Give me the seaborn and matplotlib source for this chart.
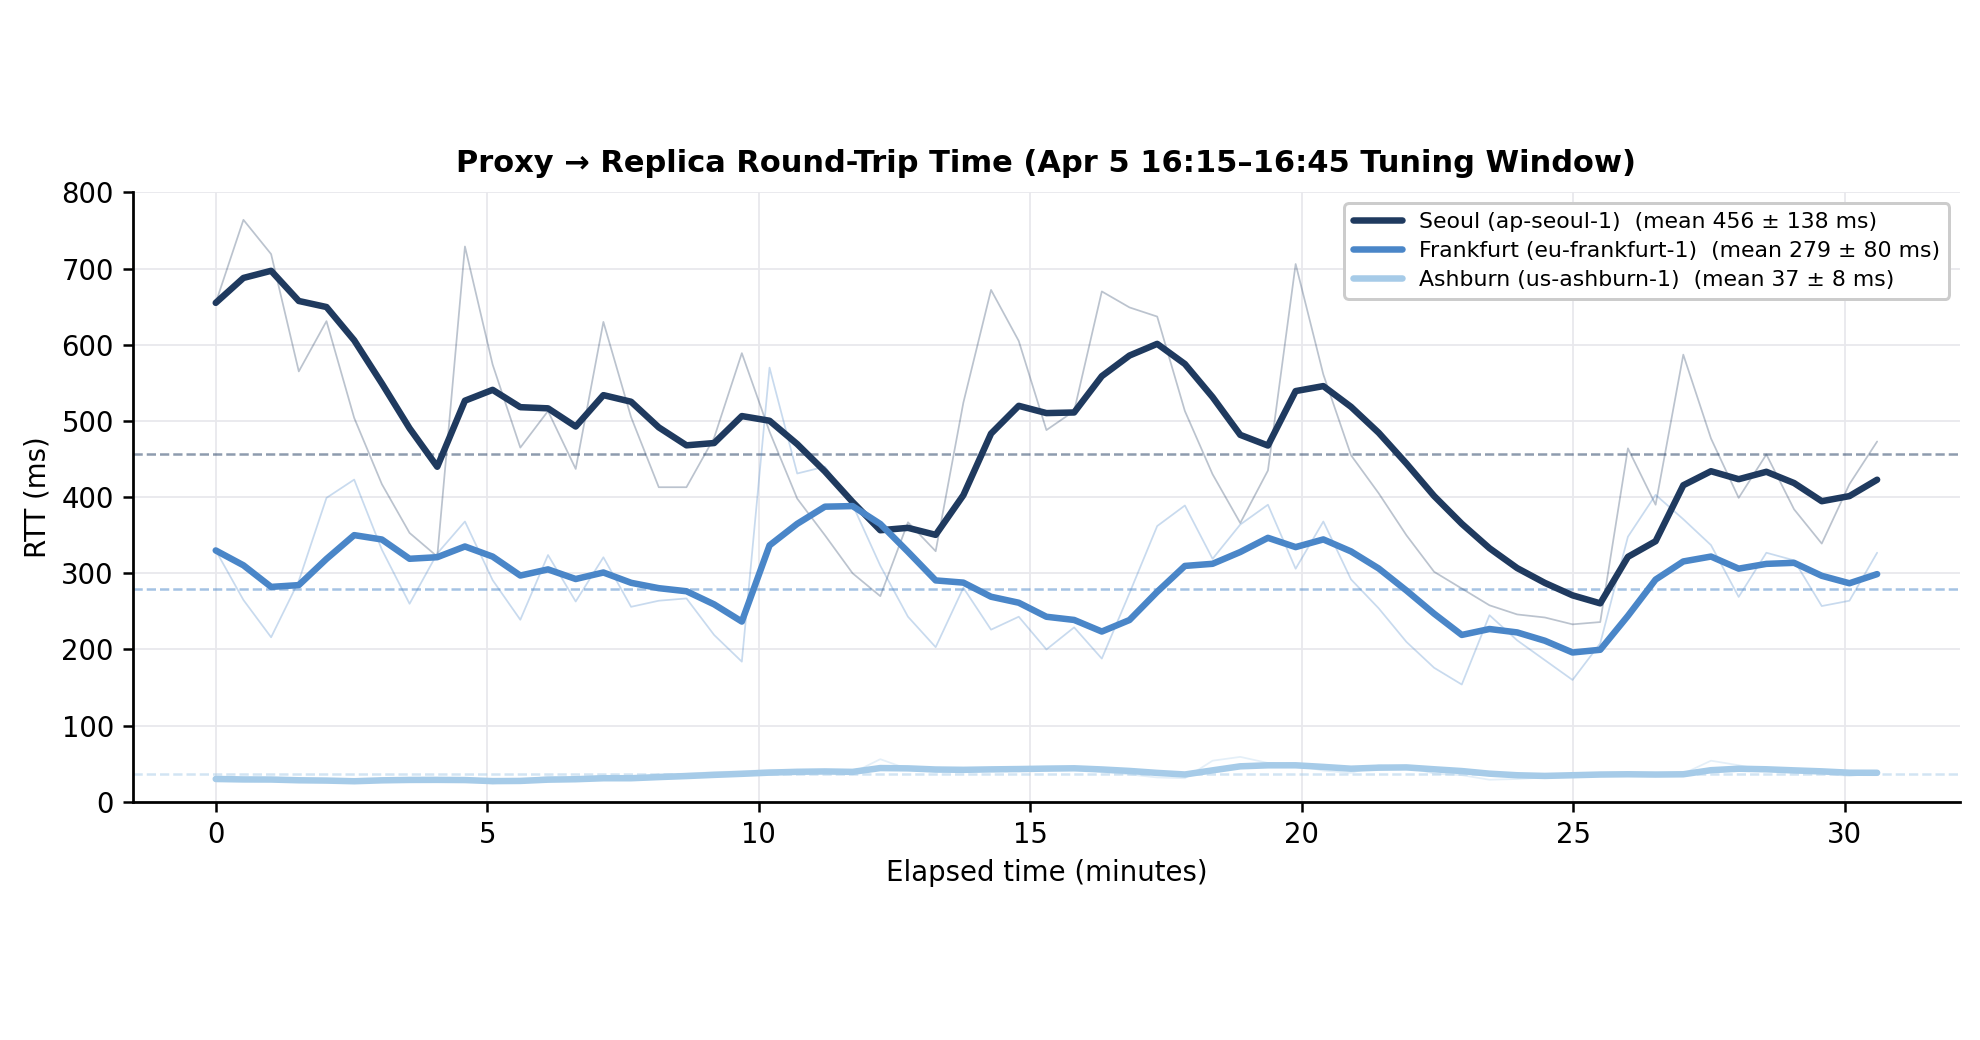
import numpy as np
import pandas as pd
import matplotlib
matplotlib.use("Agg")
import matplotlib.pyplot as plt
import seaborn as sns

# --- data (raw RTT samples, one every 0.51 min) ---
minutes = np.round(np.arange(61) * 0.51, 2)

seoul_raw = [655, 764, 719, 565, 631, 504, 417, 353, 322, 729,
             574, 465, 513, 437, 630, 505, 413, 413, 478, 589,
             486, 398, 350, 300, 270, 367, 329, 524, 672, 605,
             488, 513, 670, 649, 637, 513, 430, 366, 435, 706,
             561, 455, 405, 350, 302, 280, 258, 246, 242, 233,
             236, 464, 390, 587, 477, 399, 456, 384, 339, 417, 473]
frankfurt_raw = [330, 265, 216, 290, 399, 423, 331, 260, 326, 368,
                 291, 239, 324, 263, 321, 256, 264, 267, 219, 184,
                 570, 431, 440, 390, 310, 243, 203, 281, 226, 243,
                 200, 229, 188, 274, 362, 389, 319, 364, 390, 306,
                 368, 292, 254, 210, 176, 154, 245, 212, 186, 160,
                 208, 348, 403, 371, 337, 269, 327, 317, 257, 264, 327]
ashburn_raw = [30, 28, 29, 26, 27, 25, 31, 30, 29, 28,
               24, 28, 33, 31, 34, 31, 36, 37, 39, 40,
               42, 42, 41, 38, 56, 43, 39, 41, 44, 44,
               45, 45, 39, 36, 32, 31, 54, 59, 51, 48,
               41, 38, 48, 46, 37, 35, 29, 30, 32, 37,
               38, 37, 35, 37, 54, 48, 41, 38, 37, 34, 38]

regions = ["Seoul", "Frankfurt", "Ashburn"]
region_ids = ["ap-seoul-1", "eu-frankfurt-1", "us-ashburn-1"]
mean_rtt = [456, 279, 37]
std_rtt = [138, 80, 8]
colors = ["#1f3a5f", "#4a86c8", "#a6cbe8"]

labels = [f"{r} ({rid})  (mean {m} ± {s} ms)"
          for r, rid, m, s in zip(regions, region_ids, mean_rtt, std_rtt)]

frames = []
for lab, raw in zip(labels, [seoul_raw, frankfurt_raw, ashburn_raw]):
    d = pd.DataFrame({"minutes": minutes, "rtt": raw, "region": lab})
    # smoothed trace = exponential moving average of raw samples
    d["smooth"] = d["rtt"].ewm(alpha=0.3, adjust=False).mean()
    frames.append(d)
df = pd.concat(frames, ignore_index=True)
palette = dict(zip(labels, colors))

# --- plot ---
sns.set_style("ticks")
plt.rcParams["font.family"] = ["DejaVu Sans"]
plt.rcParams.update({"text.color": "black", "axes.labelcolor": "black",
                     "xtick.color": "black", "ytick.color": "black",
                     "axes.edgecolor": "black"})

fig, ax = plt.subplots(figsize=(11, 5.7778), dpi=180)
fig.subplots_adjust(left=0.067, right=0.99, top=0.815, bottom=0.229)

ax.grid(True, color="#e8e8ec", linewidth=0.7, zorder=0)
ax.set_axisbelow(True)

# raw samples (thin, faint)
sns.lineplot(data=df, x="minutes", y="rtt", hue="region", palette=palette,
             linewidth=0.7, alpha=0.3, legend=False, ax=ax)

# mean reference lines
for m, c in zip(mean_rtt, colors):
    ax.axhline(m, color=c, linestyle="--", linewidth=1.0, alpha=0.5, zorder=1)

# smoothed trend
sns.lineplot(data=df, x="minutes", y="smooth", hue="region", palette=palette,
             linewidth=2.6, ax=ax)

ax.set_ylim(0, 800)
ax.set_yticks(range(0, 801, 100))
ax.set_xticks(range(0, 31, 5))
ax.tick_params(labelsize=11, width=1.0, length=4)
for sp in ax.spines.values():
    sp.set_linewidth(1.1)
sns.despine(ax=ax)

ax.set_xlabel("Elapsed time (minutes)", fontsize=11)
ax.set_ylabel("RTT (ms)", fontsize=11)
ax.set_title("Proxy → Replica Round-Trip Time (Apr 5 16:15–16:45 Tuning Window)",
             fontsize=12.2, fontweight="bold", pad=8)

sns.move_legend(ax, "upper right", title=None, fontsize=8.8, frameon=True,
                framealpha=1.0, edgecolor="#cccccc", fancybox=True,
                labelspacing=0.4, handlelength=2.2)
ax.get_legend().get_frame().set_linewidth(1.2)

fig.savefig("out.png", dpi=180)
